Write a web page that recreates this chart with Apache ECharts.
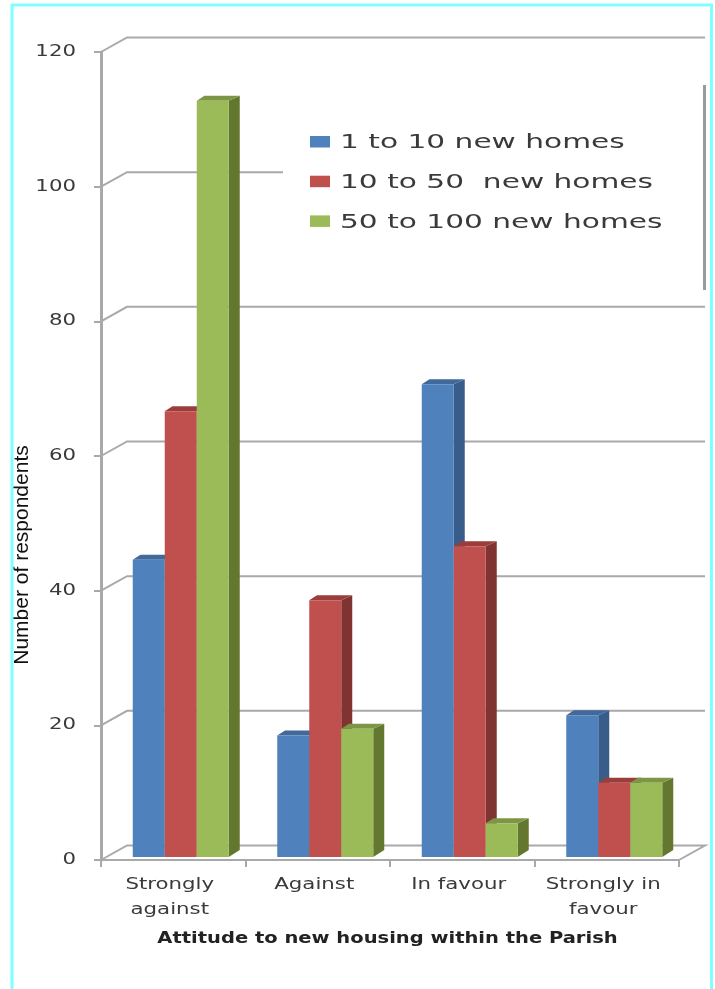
<!DOCTYPE html>
<html>
<head>
<meta charset="utf-8">
<style>html,body{margin:0;padding:0;background:#fff}#c{width:715px;height:989px}</style>
<script src="https://cdn.jsdelivr.net/npm/echarts@6/dist/echarts.min.js"></script>
</head>
<body>
<div id="c"></div>
<script>
const categories = ['Strongly\nagainst', 'Against', 'In favour', 'Strongly in\nfavour'];
const seriesNames = ['1 to 10 new homes', '10 to 50  new homes', '50 to 100 new homes'];
const homes1to10 = [44, 18, 70, 21];
const homes10to50 = [66, 38, 46, 11];
const homes50to100 = [112, 19, 5, 11];
const tickValues = [0, 20, 40, 60, 80, 100, 120];
const xTitle = 'Attitude to new housing within the Parish';
const yTitle = 'Number of respondents';

const faceColors = ['#4F81BD', '#C0504D', '#9BBB59'];
const sideColors = ['#385D8A', '#7F3432', '#64772F'];
const topColors = ['#41699A', '#9A3D3B', '#7C9645'];

const BAR_W = 32, DEPTH_X = 11, DEPTH_Y = 5, CLUSTER_SHIFT = 7.5, BASE_LIFT = 3;
const WALL_X = 26, WALL_Y = 14.5, GRID_COLOR = '#A9A9A9', TEXT_COLOR = '#3a3a3a';
const TEXT_STRETCH = 1.42;

function barRenderer(idx) {
  return function (params, api) {
    const c = api.coord([api.value(0), api.value(1)]);
    const x = c[0] + CLUSTER_SHIFT + (idx - 1.5) * BAR_W;
    const yTop = c[1] - BASE_LIFT - api.value(1) * 0.02;
    const yBase = api.coord([api.value(0), 0])[1] - BASE_LIFT;
    return {
      type: 'group',
      children: [
        { type: 'polygon', shape: { points: [[x + BAR_W, yTop], [x + BAR_W + DEPTH_X, yTop - DEPTH_Y], [x + BAR_W + DEPTH_X, yBase - DEPTH_Y - 2], [x + BAR_W, yBase]] }, style: { fill: sideColors[idx] } },
        { type: 'polygon', shape: { points: [[x, yTop], [x + BAR_W, yTop], [x + BAR_W + DEPTH_X, yTop - DEPTH_Y], [x + DEPTH_X * 0.7, yTop - DEPTH_Y]] }, style: { fill: topColors[idx] } },
        { type: 'rect', shape: { x: x, y: yTop, width: BAR_W, height: yBase - yTop }, style: { fill: faceColors[idx] } }
      ]
    };
  };
}
function wallRenderer(params, api) {
  const v = api.value(1);
  const p = api.coord([0, v]);
  const band = api.size([1, 0])[0];
  const x0 = p[0] - band / 2;
  const x1 = api.coord([categories.length - 1, v])[0] + band / 2;
  const pts = [[x0, p[1]], [x0 + WALL_X, p[1] - WALL_Y], [x1 + WALL_X, p[1] - WALL_Y]];
  if (v === 0) pts.push([x1, p[1]]);
  return {
    type: 'group',
    children: [
      { type: 'polyline', shape: { points: pts }, style: { stroke: GRID_COLOR, lineWidth: 2, fill: null } },
      { type: 'text', x: x0 - 25, y: p[1], scaleX: TEXT_STRETCH, style: { text: String(v), fill: TEXT_COLOR, font: '15px "DejaVu Sans"', textAlign: 'right', textVerticalAlign: 'middle' } }
    ]
  };
}
function categoryLabelRenderer(params, api) {
  const i = api.value(0);
  const c = api.coord([i, 0]);
  return {
    type: 'text', x: c[0] - 3.5, y: c[1] + 13, scaleX: TEXT_STRETCH,
    style: { text: categories[i], fill: TEXT_COLOR, font: '15px "DejaVu Sans"', lineHeight: 24.5, textAlign: 'center', textVerticalAlign: 'top' }
  };
}

const legendGraphics = seriesNames.flatMap((name, i) => [
  { type: 'rect', z: 20, shape: { x: 310, y: 136 + i * 39.7, width: 20, height: 11.5 }, style: { fill: faceColors[i] } },
  { type: 'text', z: 20, x: 340, y: 143.5 + i * 40, scaleX: 1.56, style: { text: name, fill: TEXT_COLOR, font: '19px "DejaVu Sans"', textAlign: 'left', textVerticalAlign: 'middle' } }
]);

const chart = echarts.init(document.getElementById('c'), null, { renderer: 'canvas' });
chart.setOption({
  animation: false,
  backgroundColor: '#fff',
  grid: { left: 101, right: 36, top: 52, height: 808, containLabel: false },
  xAxis: {
    type: 'category', data: categories,
    axisLine: { lineStyle: { color: GRID_COLOR, width: 2 } },
    axisTick: { show: true, length: 7, lineStyle: { color: GRID_COLOR, width: 2 } },
    axisLabel: { show: false }
  },
  yAxis: {
    type: 'value', min: 0, max: 120, interval: 20,
    axisLine: { show: true, lineStyle: { color: GRID_COLOR, width: 3 } },
    axisTick: { show: true, length: 7, lineStyle: { color: GRID_COLOR, width: 2 } },
    axisLabel: { show: false },
    splitLine: { show: false }
  },
  graphic: [
    { type: 'rect', z: 10, shape: { x: 283, y: 95, width: 420, height: 195 }, style: { fill: '#fff' } },
    { type: 'rect', z: 11, shape: { x: 703, y: 85, width: 3, height: 205 }, style: { fill: '#9a9a9a' } },
    { type: 'rect', z: 30, shape: { x: 12, y: 5, width: 699.5, height: 1000 }, style: { fill: null, stroke: '#7FFFFF', lineWidth: 3 } },
    { type: 'text', z: 20, x: 22, y: 555, rotation: Math.PI / 2, style: { text: yTitle, fill: '#111', font: '21px "Liberation Sans"', textAlign: 'center', textVerticalAlign: 'middle' } },
    { type: 'text', z: 20, x: 387.5, y: 939, scaleX: 1.3, style: { text: xTitle, fill: '#222', font: 'bold 15px "DejaVu Sans"', textAlign: 'center', textVerticalAlign: 'middle' } }
  ].concat(legendGraphics),
  series: [
    { type: 'custom', name: 'wall', silent: true, z: 1, renderItem: wallRenderer, encode: { x: 0, y: 1 }, data: tickValues.map(v => [0, v]) },
    { type: 'custom', name: 'categoryLabels', silent: true, z: 2, renderItem: categoryLabelRenderer, encode: { x: 0 }, data: categories.map((c, i) => [i]) },
    { type: 'custom', name: seriesNames[0], z: 3, renderItem: barRenderer(0), encode: { x: 0, y: 1 }, data: homes1to10.map((v, i) => [i, v]) },
    { type: 'custom', name: seriesNames[1], z: 4, renderItem: barRenderer(1), encode: { x: 0, y: 1 }, data: homes10to50.map((v, i) => [i, v]) },
    { type: 'custom', name: seriesNames[2], z: 5, renderItem: barRenderer(2), encode: { x: 0, y: 1 }, data: homes50to100.map((v, i) => [i, v]) }
  ]
});
</script>
</body>
</html>
